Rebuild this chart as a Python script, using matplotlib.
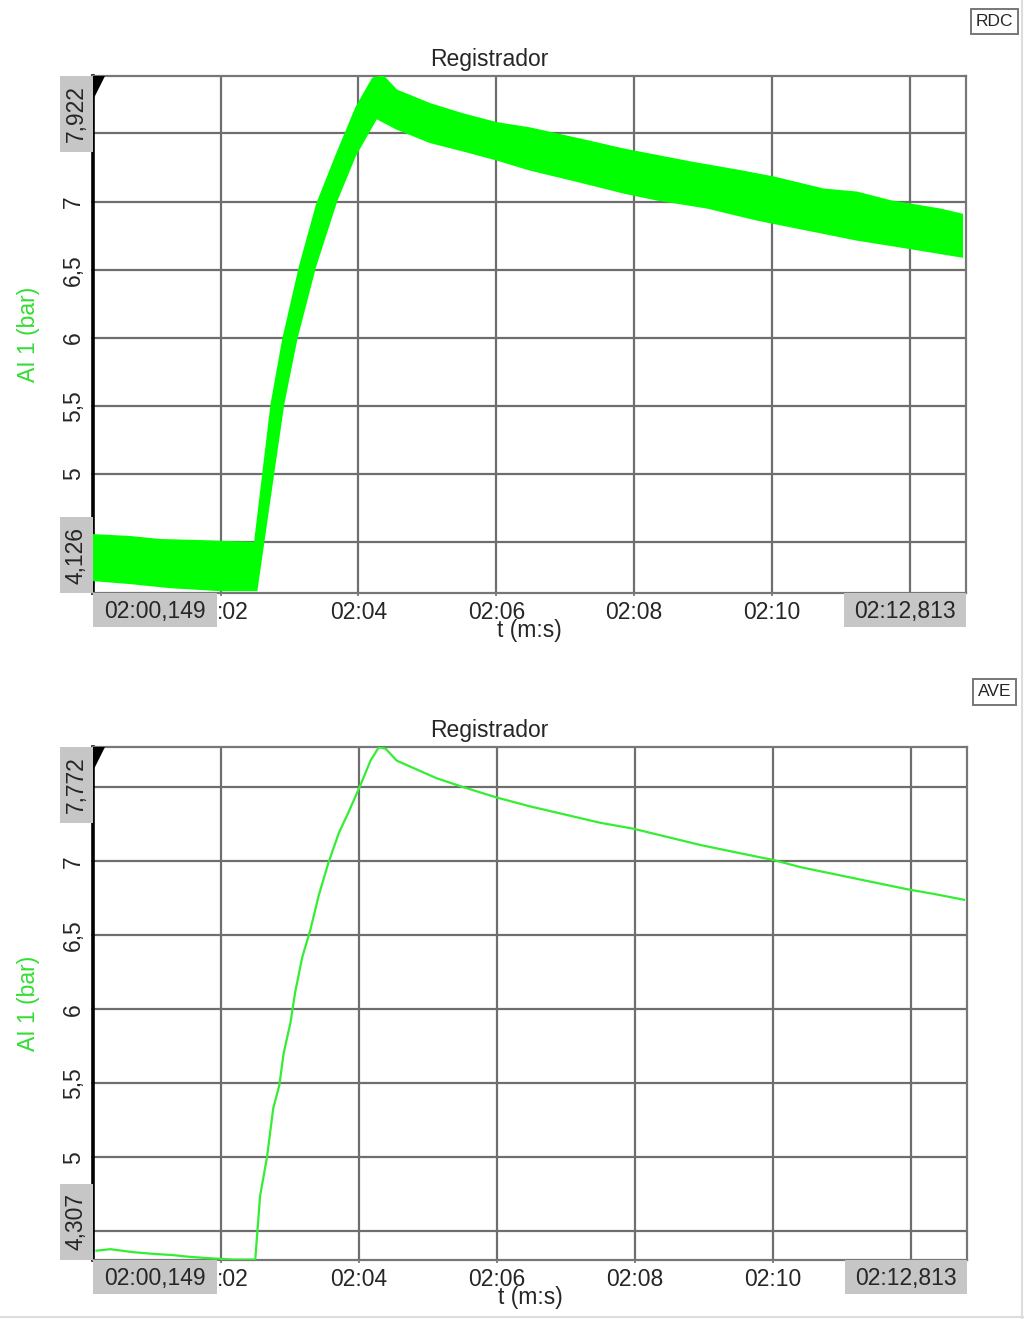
import matplotlib
matplotlib.use("Agg")
import matplotlib.pyplot as plt
from matplotlib.patches import Rectangle, Polygon
from matplotlib.transforms import ScaledTranslation
import numpy as np

plt.rcParams['font.family'] = ['Liberation Sans', 'DejaVu Sans']

# ---------------- data ----------------
x_min, x_max = 120.149, 132.813          # seconds (02:00,149 .. 02:12,813)
x_min_label, x_max_label = "02:00,149", "02:12,813"
x_ticks = [122, 124, 126, 128, 130, 132]
# first label is partly hidden behind the range box, last one fully hidden
x_tick_labels = [":02", "02:04", "02:06", "02:08", "02:10", ""]
y_ticks = [4.5, 5.0, 5.5, 6.0, 6.5, 7.0, 7.5]
# 4,5 and 7,5 are hidden behind the range boxes
y_tick_labels = ["", "5", "5,5", "6", "6,5", "7", ""]

# Top panel (RDC) – raw signal band: upper and lower envelope
rdc_ylim = (4.126, 7.922)
rdc_ylim_labels = ("4,126", "7,922")
rdc_up_t = [120.149, 120.686, 121.12, 121.70, 122.499, 122.62, 122.74, 122.91,
            123.15, 123.40, 123.68, 123.97, 124.21, 124.36, 124.55, 125.04,
            125.52, 126.005, 126.49, 127.21, 127.85, 128.82, 129.545, 130.03,
            130.75, 131.23, 131.72, 132.445, 132.755]
rdc_up_v = [4.551, 4.537, 4.515, 4.507, 4.493, 5.007, 5.515, 5.993,
            6.522, 6.981, 7.338, 7.691, 7.904, 7.919, 7.816, 7.715,
            7.640, 7.576, 7.537, 7.456, 7.382, 7.287, 7.223, 7.176,
            7.088, 7.066, 7.002, 6.941, 6.904]
rdc_lo_t = [120.149, 120.686, 121.27, 121.99, 122.52, 122.62, 122.764, 122.91,
            123.10, 123.37, 123.68, 123.95, 124.26, 124.55, 125.04, 125.52,
            126.005, 126.49, 127.21, 127.85, 128.33, 129.06, 129.78, 130.51,
            131.23, 131.96, 132.755]
rdc_lo_v = [4.221, 4.199, 4.169, 4.147, 4.147, 4.500, 5.007, 5.515,
            5.993, 6.522, 7.007, 7.338, 7.614, 7.537, 7.437, 7.375,
            7.309, 7.235, 7.147, 7.066, 7.015, 6.956, 6.868, 6.794,
            6.721, 6.662, 6.596]

# Bottom panel (AVE) – averaged signal
ave_ylim = (4.307, 7.772)
ave_ylim_labels = ("4,307", "7,772")
ave_t = [120.20, 120.40, 120.73, 120.98, 121.31, 121.51, 121.80, 122.18, 122.50,
         122.57, 122.67, 122.76, 122.85, 122.91, 123.01, 123.08, 123.18, 123.30,
         123.42, 123.56, 123.71, 123.85, 124.02, 124.17, 124.29, 124.39, 124.55,
         124.84, 125.134, 125.52, 126.005, 126.49, 127.50, 127.98, 128.95,
         129.78, 130.00, 130.405, 131.13, 131.96, 132.33, 132.77]
ave_v = [4.37, 4.38, 4.36, 4.35, 4.34, 4.33, 4.32, 4.31, 4.31,
         4.74, 5.00, 5.33, 5.49, 5.70, 5.91, 6.12, 6.35, 6.54,
         6.77, 6.99, 7.19, 7.33, 7.51, 7.68, 7.77, 7.76, 7.68,
         7.62, 7.56, 7.50, 7.43, 7.37, 7.26, 7.22, 7.11,
         7.03, 7.01, 6.96, 6.89, 6.81, 6.78, 6.74]

title = "Registrador"
ylabel = "AI 1 (bar)"
xlabel = "t (m:s)"
tags = ["RDC", "AVE"]

# ---------------- figure ----------------
W, H = 1024, 1319
fig = plt.figure(figsize=(W / 100, H / 100), dpi=100)
fig.patch.set_facecolor("white")

TXT = "#262626"
BOX = "#c6c6c6"
GRID = "#6e6e6e"
GREEN_Y = "#33dd33"
FS = 16.5

def px_rect(l, t, r, b):
    return [l / W, 1 - b / H, (r - l) / W, (b - t) / H]

ax1 = fig.add_axes(px_rect(93, 76, 966, 593))
ax2 = fig.add_axes(px_rect(93, 747, 967, 1260))

def style(ax, ylim, ylim_labels, tag, tag_top):
    ax.set_xlim(x_min, x_max)
    ax.set_ylim(*ylim)
    ax.set_xticks(x_ticks)
    ax.set_xticklabels(x_tick_labels)
    ax.set_yticks(y_ticks)
    ax.set_yticklabels(y_tick_labels, rotation=90, va="center", ha="right")
    ax.tick_params(axis="x", colors=GRID, labelcolor=TXT, labelsize=FS,
                   length=4, width=1.2, direction="inout", pad=3.5)
    ax.tick_params(axis="y", colors=GRID, labelcolor=TXT, labelsize=FS,
                   length=3, width=1.2, direction="inout", pad=4)
    # shift the partly hidden ":02" label so it starts right at the box edge
    lab0 = ax.get_xticklabels()[0]
    lab0.set_transform(lab0.get_transform() + ScaledTranslation(12 / 100, 0, fig.dpi_scale_trans))
    ax.grid(True, color=GRID, linewidth=1.6)
    ax.set_axisbelow(True)
    for s in ["top", "right", "bottom"]:
        ax.spines[s].set_color("#777777")
        ax.spines[s].set_linewidth(1.6)
    ax.spines["left"].set_color("black")
    ax.spines["left"].set_linewidth(2.6)
    t = ax.set_title(title, fontsize=FS, color=TXT, pad=7)
    t.set_x((489 - 93) / 873)
    ax.set_xlabel(xlabel, fontsize=FS, color=TXT, labelpad=-3)
    ax.set_ylabel(ylabel, fontsize=FS, color=GREEN_Y, labelpad=16)

    bb = ax.get_position()
    axw, axh = bb.width * W, bb.height * H
    # x-range boxes below axis
    bw_l, bw_r, bh = 124 / axw, 122 / axw, 34 / axh
    for x0, w, lab in [(0, bw_l, x_min_label), (1 - bw_r, bw_r, x_max_label)]:
        ax.add_patch(Rectangle((x0, -bh), w, bh, transform=ax.transAxes,
                               facecolor=BOX, edgecolor="none", clip_on=False, zorder=10))
        ax.text(x0 + w / 2, -bh / 2 - 1 / axh, lab, transform=ax.transAxes, ha="center",
                va="center", fontsize=FS, color=TXT, zorder=11, clip_on=False)
    # y-range boxes left of axis
    yw, yh = 33 / axw, 76 / axh
    for y0, lab in [(0, ylim_labels[0]), (1 - yh, ylim_labels[1])]:
        ax.add_patch(Rectangle((-yw, y0), yw, yh, transform=ax.transAxes,
                               facecolor=BOX, edgecolor="none", clip_on=False, zorder=10))
        ax.text(-yw / 2, y0 + yh / 2, lab, transform=ax.transAxes, ha="center",
                va="center", rotation=90, fontsize=FS, color=TXT, zorder=11, clip_on=False)
    # black marker wedge at top-left
    ax.add_patch(Polygon([(0, 1), (12 / axw, 1), (0, 1 - 24 / axh)], closed=True,
                         transform=ax.transAxes, facecolor="black", edgecolor="none",
                         clip_on=False, zorder=12))
    # tag box
    fig.text(994.5 / W, 1 - tag_top / H, tag, ha="center", va="center", fontsize=12.5,
             color=TXT, bbox=dict(boxstyle="square,pad=0.3", facecolor="white",
                                  edgecolor="#777777", linewidth=1.4))

style(ax1, rdc_ylim, rdc_ylim_labels, tags[0], 21.5)
style(ax2, ave_ylim, ave_ylim_labels, tags[1], 692)

# top: raw noisy band
poly_t = np.concatenate([rdc_up_t, rdc_lo_t[::-1]])
poly_v = np.concatenate([rdc_up_v, rdc_lo_v[::-1]])
ax1.fill(poly_t, poly_v, color="#00ff00", linewidth=1.5, edgecolor="#00ff00", zorder=3)

# bottom: averaged line
ax2.plot(ave_t, ave_v, color="#33ee33", linewidth=1.6, zorder=3)

# faint outer frame lines (right & bottom)
fig.add_artist(plt.Line2D([1022 / W, 1022 / W], [0, 1], color="#dddddd", lw=1.5))
fig.add_artist(plt.Line2D([0, 1], [2 / H, 2 / H], color="#dddddd", lw=1.5))

fig.savefig("out.png", dpi=100, facecolor="white")
